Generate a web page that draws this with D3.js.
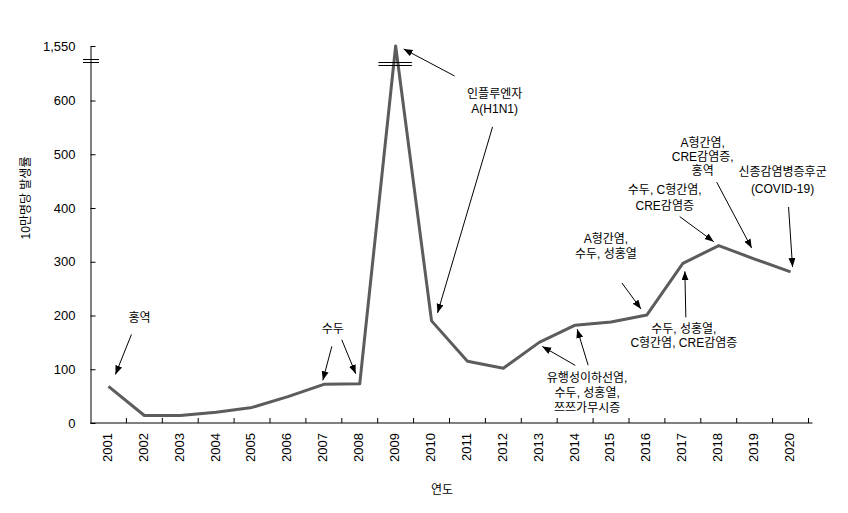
<!DOCTYPE html>
<html><head><meta charset="utf-8">
<script src="https://cdn.jsdelivr.net/npm/d3@7"></script>
<style>
html,body{margin:0;padding:0;background:#fff;}
text{font-family:"Liberation Sans","Noto Sans CJK KR",sans-serif;}
</style></head>
<body><svg id="chart" width="848" height="513"></svg>
<script>
// ---- data ----
const years = ["2001","2002","2003","2004","2005","2006","2007","2008","2009","2010",
               "2011","2012","2013","2014","2015","2016","2017","2018","2019","2020"];
const rates = [68,14,14,20,29,49,72,73,1550,190,115,102,150,182,188,201,297,330,305,281];
const yTicks = [0,100,200,300,400,500,600,1550];
const yTitle = "10만명당 발생률";
const xTitle = "연도";
const noteTexts = [
  ["홍역"],
  ["수두"],
  ["인플루엔자","A(H1N1)"],
  ["유행성이하선염,","수두, 성홍열,","쯔쯔가무시증"],
  ["A형간염,","수두, 성홍열"],
  ["수두, 성홍열,","C형간염, CRE감염증"],
  ["수두, C형간염,","CRE감염증"],
  ["A형간염,","CRE감염증,","홍역"],
  ["신종감염병증후군","(COVID-19)"]
];
const noteYears = ["2001","2007","2009","2014","2016","2017","2018","2019","2020"];
const arrowYears = [["2001"],["2007","2008"],["2009","2010"],["2013","2014"],["2016"],["2017"],["2018"],["2019"],["2020"]];

// ---- layout (offsets from the anchored data point, px) ----
const noteLayout = [
  {tx:31, ty:-69, lh:15, arrows:[[23,-52,7,-12]]},
  {tx:9, ty:-56, lh:15, arrows:[[8,-38,-1,-4],[-18,-44,-4,-10]]},
  {tx:99, ty:47, lh:15, arrows:[[59,30,8,3],[61,-194,6,-8]]},
  {tx:12, ty:52, lh:15, arrows:[[36,23,3,4],[13,40,2,4]]},
  {tx:-41, ty:-76, lh:15, arrows:[[-25,-32,-6,-6]]},
  {tx:1, ty:65, lh:14.5, arrows:[[3,54,2,8]]},
  {tx:-54, ty:-56, lh:16, arrows:[[-39,-29,-5,-4]]},
  {tx:-52, ty:-117, lh:14, arrows:[[-38,-77,-3,-11]]},
  {tx:-8, ty:-100, lh:17, arrows:[[-2,-65,2,-5]]}
];

const svg = d3.select("#chart");
svg.append("rect").attr("width",848).attr("height",513).attr("fill","#fff");

const x = d3.scaleBand().domain(years).range([90.5, 808.5]).padding(0);
const y = d3.scaleLinear().domain([0,600,1550]).range([423,100.5,46]);
const cx = d => x(d) + x.bandwidth()/2;
const dataMap = new Map(years.map((d,i)=>[d,rates[i]]));

svg.append("defs").append("marker")
  .attr("id","ah").attr("markerUnits","userSpaceOnUse")
  .attr("markerWidth",10).attr("markerHeight",8)
  .attr("refX",9).attr("refY",3.5).attr("orient","auto")
  .append("path").attr("d","M0,0 L9,3.5 L0,7 Z").attr("fill","#000");

// y axis
const yAxis = d3.axisLeft(y).tickValues(yTicks).tickFormat(d3.format(","))
  .tickSizeInner(-5).tickSizeOuter(0).tickPadding(15);
const gy = svg.append("g").attr("transform","translate(90.5,0)").call(yAxis);
gy.selectAll("text").attr("font-size",13).attr("fill","#000").attr("font-family","Liberation Sans, sans-serif");
gy.selectAll("line,path").attr("stroke","#000");

// x axis
const gx = svg.append("g");
gx.append("line").attr("x1",90.5).attr("x2",x.range()[1]+4).attr("y1",423).attr("y2",423).attr("stroke","#000");
const bounds = years.slice(1).map(d=>x(d)).concat([x.range()[1]]);
gx.selectAll("line.tk").data(bounds).enter().append("line").attr("class","tk")
  .attr("x1",d=>d).attr("x2",d=>d).attr("y1",423).attr("y2",418).attr("stroke","#000");
gx.selectAll("text").data(years).enter().append("text")
  .attr("transform",d=>`translate(${cx(d)},433) rotate(-90)`)
  .attr("text-anchor","end").attr("dominant-baseline","middle")
  .attr("font-size",13).text(d=>d);

// axis break marks
const yb = y(1550);
[13.5,16.5].forEach(o=>{
  svg.append("line").attr("x1",83).attr("x2",99).attr("y1",yb+o).attr("y2",yb+o).attr("stroke","#000");
  svg.append("line").attr("x1",cx("2009")-17).attr("x2",cx("2009")+16).attr("y1",yb+o+3).attr("y2",yb+o+3).attr("stroke","#000");
});

// line
const line = d3.line().x(d=>cx(d)).y(d=>y(dataMap.get(d)));
svg.append("path").datum(years).attr("d",line).attr("fill","none")
  .attr("stroke","#5c5c5c").attr("stroke-width",3).attr("stroke-linejoin","round");

// re-draw break marks over the line
[13.5,16.5].forEach(o=>{
  svg.append("line").attr("x1",cx("2009")-17).attr("x2",cx("2009")+16).attr("y1",yb+o+3).attr("y2",yb+o+3).attr("stroke","#000");
});

// titles
svg.append("text").attr("transform",`translate(27,198) rotate(-90)`)
  .attr("text-anchor","middle").attr("dominant-baseline","middle").attr("font-size",12).text(yTitle);
svg.append("text").attr("x",442).attr("y",491).attr("text-anchor","middle")
  .attr("dominant-baseline","middle").attr("font-size",12).text(xTitle);

// annotations
noteTexts.forEach((lines,i)=>{
  const L = noteLayout[i];
  const ay = noteYears[i];
  const px = cx(ay), py = y(dataMap.get(ay));
  const t = svg.append("text").attr("font-size",12).attr("text-anchor","middle");
  lines.forEach((s,j)=>{
    t.append("tspan").attr("x",px+L.tx).attr("y",py+L.ty+j*L.lh+4.5).text(s);
  });
  arrowYears[i].forEach((yr,k)=>{
    const a = L.arrows[k];
    const qx = cx(yr), qy = y(dataMap.get(yr));
    svg.append("line").attr("x1",qx+a[0]).attr("y1",qy+a[1]).attr("x2",qx+a[2]).attr("y2",qy+a[3])
      .attr("stroke","#000").attr("stroke-width",1).attr("marker-end","url(#ah)");
  });
});
</script></body></html>
